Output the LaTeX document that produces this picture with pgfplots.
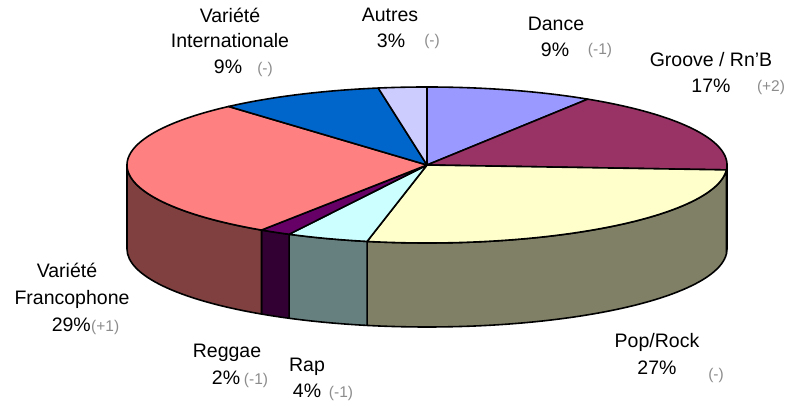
\documentclass[border=0pt]{standalone}
\usepackage{pgfplots}
\pgfplotsset{compat=1.18}
\usepackage{pgfplotstable}
\usepackage{fontspec}
\setmainfont{Liberation Sans}

\definecolor{cDance}{HTML}{9999FF}
\definecolor{cGroove}{HTML}{993366}
\definecolor{cGrooveS}{HTML}{4D1A33}
\definecolor{cPop}{HTML}{FFFFCC}
\definecolor{cPopS}{HTML}{808066}
\definecolor{cRap}{HTML}{CCFFFF}
\definecolor{cRapS}{HTML}{668080}
\definecolor{cReggae}{HTML}{660066}
\definecolor{cReggaeS}{HTML}{330033}
\definecolor{cFranco}{HTML}{FF8080}
\definecolor{cFrancoS}{HTML}{804040}
\definecolor{cInter}{HTML}{0066CC}
\definecolor{cAutres}{HTML}{CCCCFF}
\definecolor{cNote}{HTML}{8C8C8C}

% shares (labels show rounded values)
\pgfplotstableread{
genre pct
Dance 9.0
Groove 17.0
PopRock 27.2
Rap 4.4
Reggae 1.7
Francophone 29.2
Internationale 8.9
Autres 2.6
}\pietable

% start (A) and end (B) angles of each slice, clockwise from 90 degrees
\gdef\acc{90}
\foreach \i in {0,...,7}{%
  \pgfplotstablegetelem{\i}{pct}\of\pietable
  \pgfmathsetmacro\tmp{\acc-3.6*\pgfplotsretval}%
  \expandafter\xdef\csname A\i\endcsname{\acc}%
  \expandafter\xdef\csname B\i\endcsname{\tmp}%
  \xdef\acc{\tmp}%
}

\def\lw{1.6pt}
\newcommand\topwedge[2]{%
  \edef\doplot{\noexpand\addplot[fill=#2,draw=black,line width=\lw,line join=round,domain=\csname B#1\endcsname:\csname A#1\endcsname,samples=80]
   ({427+300*cos(x)},{241+78*sin(x)}) -- (axis cs:427,241) -- cycle;}\doplot}
\newcommand\sidewall[3]{%
  \pgfmathsetmacro\bx{427+300*cos(#2)}%
  \pgfmathsetmacro\by{241+78*sin(#2)-84}%
  \edef\doplot{\noexpand\addplot[fill=#3,draw=black,line width=\lw,line join=round,domain=#1:#2,samples=60]
   ({427+300*cos(x)},{241+78*sin(x)}) -- (axis cs:\bx,\by) arc[start angle=#2,end angle=#1,x radius=300bp,y radius=78bp] -- cycle;}\doplot}

\newcommand\lab[3]{\node[anchor=base,font=\fontsize{19.5bp}{24bp}\selectfont,inner sep=0pt] at (axis cs:#1,#2) {#3};}
\newcommand\note[3]{\node[anchor=base,font=\fontsize{15.5bp}{18bp}\selectfont,text=cNote,inner sep=0pt] at (axis cs:#1,#2) {#3};}

\begin{document}
\begin{tikzpicture}
\path[use as bounding box] (0,0) rectangle (787bp,406bp);
\begin{axis}[at={(0,0)},anchor=south west,scale only axis,width=787bp,height=406bp,
  xmin=0,xmax=787,ymin=0,ymax=406,hide axis,clip=false]
% side walls (front half only)
\sidewall{\csname B1\endcsname}{0}{cGrooveS}
\sidewall{\csname B2\endcsname}{\csname A2\endcsname}{cPopS}
\sidewall{\csname B3\endcsname}{\csname A3\endcsname}{cRapS}
\sidewall{\csname B4\endcsname}{\csname A4\endcsname}{cReggaeS}
\sidewall{-180}{\csname A5\endcsname}{cFrancoS}
% top faces
\topwedge{0}{cDance}
\topwedge{1}{cGroove}
\topwedge{2}{cPop}
\topwedge{3}{cRap}
\topwedge{4}{cReggae}
\topwedge{5}{cFranco}
\topwedge{6}{cInter}
\topwedge{7}{cAutres}
% labels
\lab{230}{383}{Variété}
\lab{230}{358}{Internationale}
\lab{228}{332}{9\%}
\note{265}{332}{(-)}
\lab{390}{384}{Autres}
\lab{391}{358}{3\%}
\note{432}{360}{(-)}
\lab{556}{375}{Dance}
\lab{555}{349}{9\%}
\note{600}{351}{(-1)}
\lab{711}{339}{Groove / Rn'B}
\lab{711}{313}{17\%}
\note{771}{314}{(+2)}
\lab{67}{128}{Variété}
\lab{72}{101}{Francophone}
\node[anchor=base east,font=\fontsize{19.5bp}{24bp}\selectfont,inner sep=0pt] at (axis cs:91,74) {29\%};
\node[anchor=base west,font=\fontsize{15.5bp}{18bp}\selectfont,text=cNote,inner sep=0pt] at (axis cs:91,74) {(+1)};
\lab{227}{48}{Reggae}
\lab{226}{21}{2\%}
\note{256}{21}{(-1)}
\lab{307}{34}{Rap}
\lab{307}{8}{4\%}
\note{341}{8}{(-1)}
\lab{657}{58}{Pop/Rock}
\lab{657}{31}{27\%}
\note{716}{26}{(-)}
\end{axis}
\end{tikzpicture}
\end{document}
